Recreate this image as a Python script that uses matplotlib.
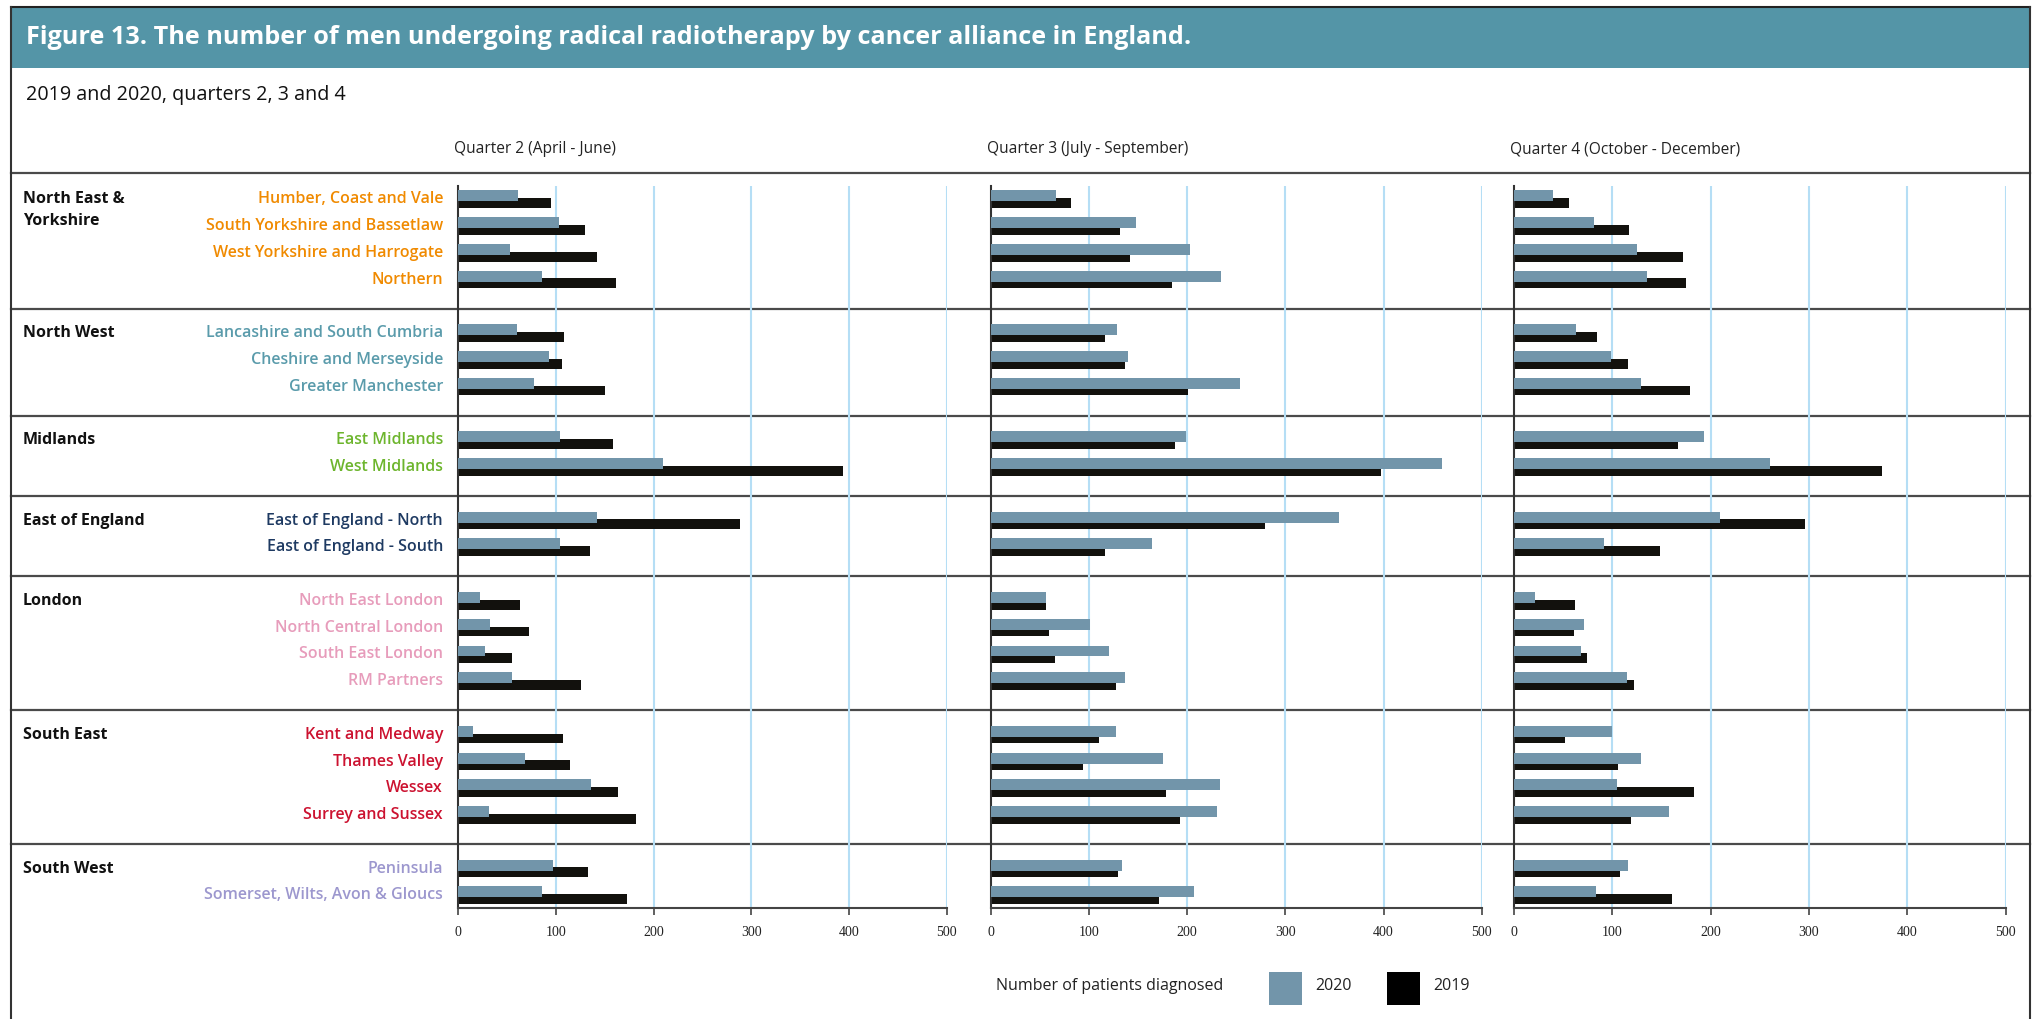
import matplotlib
matplotlib.use("Agg")
import matplotlib.pyplot as plt
from matplotlib.patches import Rectangle
from matplotlib.lines import Line2D
from matplotlib.transforms import blended_transform_factory

# Regions (cancer alliance groups) and their alliances
regions = ["North East &\nYorkshire", "North West", "Midlands", "East of England",
           "London", "South East", "South West"]
region_sizes = [4, 3, 2, 2, 4, 4, 2]
region_colors = ["#F08A00", "#5A9BAB", "#6DB52D", "#1E3A62", "#E79CBB", "#CC1230", "#9C97CE"]

alliances = ["Humber, Coast and Vale", "South Yorkshire and Bassetlaw",
             "West Yorkshire and Harrogate", "Northern",
             "Lancashire and South Cumbria", "Cheshire and Merseyside", "Greater Manchester",
             "East Midlands", "West Midlands",
             "East of England - North", "East of England - South",
             "North East London", "North Central London", "South East London", "RM Partners",
             "Kent and Medway", "Thames Valley", "Wessex", "Surrey and Sussex",
             "Peninsula", "Somerset, Wilts, Avon & Gloucs"]

quarters = ["Quarter 2 (April - June)", "Quarter 3 (July - September)",
            "Quarter 4 (October - December)"]

# Number of patients
q2_2020 = [61, 103, 53, 86, 60, 93, 78, 104, 210, 142, 104, 22, 32, 27, 55, 15, 68, 136, 31, 97, 86]
q2_2019 = [95, 130, 142, 161, 108, 106, 150, 158, 394, 288, 135, 63, 72, 55, 126, 107, 114, 164, 182, 133, 173]
q3_2020 = [67, 148, 203, 235, 129, 140, 254, 199, 459, 355, 164, 56, 101, 121, 137, 128, 176, 234, 230, 134, 207]
q3_2019 = [82, 132, 142, 185, 116, 137, 201, 188, 397, 279, 116, 56, 60, 66, 128, 110, 94, 179, 193, 130, 171]
q4_2020 = [40, 81, 125, 135, 63, 99, 129, 193, 260, 210, 92, 22, 71, 68, 115, 100, 129, 105, 158, 116, 84]
q4_2019 = [56, 117, 172, 175, 85, 116, 179, 167, 374, 296, 149, 62, 61, 74, 122, 52, 106, 183, 119, 108, 161]

series = [(q2_2020, q2_2019), (q3_2020, q3_2019), (q4_2020, q4_2019)]

c2020 = "#7295AA"
c2019 = "#12110D"
grid_c = "#B5DEF5"
line_c = "#4A4A4A"

# row positions: one blank slot between groups
ypos, group_first, group_lines, label_colors = [], [], [], []
pos = 0
for n, col in zip(region_sizes, region_colors):
    group_first.append(pos)
    for k in range(n):
        ypos.append(pos)
        label_colors.append(col)
        pos += 1
    group_lines.append(pos + 0.08)
    pos += 1
group_lines = group_lines[:-1]

W, H = 2035, 1019
fig = plt.figure(figsize=(W / 100, H / 100), dpi=100)
fig.patch.set_facecolor("white")

sans = ["Open Sans", "DejaVu Sans"]
ax_left = [458.3, 990.5, 1513.8]
ax_width = [488.2, 491.4, 492.0]
ax_top, ax_bot = 186, 908

axes = []
for i, (v20, v19) in enumerate(series):
    ax = fig.add_axes([ax_left[i] / W, 1 - ax_bot / H, ax_width[i] / W, (ax_bot - ax_top) / H])
    ax.barh([y + 0.14 for y in ypos], v19, height=0.37, color=c2019, zorder=2)
    ax.barh([y - 0.13 for y in ypos], v20, height=0.41, color=c2020, zorder=3)
    ax.set_xlim(0, 500)
    ax.set_ylim(26.47, -0.5)
    ax.set_xticks([0, 100, 200, 300, 400, 500])
    ax.set_yticks([])
    for gx in [100, 200, 300, 400, 500]:
        ax.axvline(gx, color=grid_c, lw=1.5, zorder=1)
    for s in ["top", "right"]:
        ax.spines[s].set_visible(False)
    ax.spines["left"].set_color("#333333")
    ax.spines["left"].set_linewidth(1.5)
    ax.spines["bottom"].set_color("#444444")
    ax.spines["bottom"].set_linewidth(1.5)
    ax.tick_params(axis="x", length=5, width=1.2, color="#444444", pad=8)
    for t in ax.get_xticklabels():
        t.set_fontfamily(["Liberation Serif", "DejaVu Serif"])
        t.set_fontsize(10)
        t.set_color("#222222")
    ax.set_facecolor("none")
    fig.text((ax_left[i] - 4) / W, 1 - 149 / H, quarters[i], fontsize=11.2,
             family=sans, color="#222222", va="center", ha="left")
    axes.append(ax)

ax0 = axes[0]
tr = blended_transform_factory(fig.transFigure, ax0.transData)

# horizontal separators across the whole table
x0f, x1f = 10.5 / W, 2030 / W
for gy in [-1] + group_lines:
    fig.add_artist(Line2D([x0f, x1f], [gy, gy], transform=tr, color=line_c, lw=1.6, zorder=0))

# alliance labels
for name, y, col in zip(alliances, ypos, label_colors):
    fig.text(443 / W, y, name, transform=tr, ha="right", va="center",
             fontsize=11.5, family=sans, weight="semibold", color=col)

# region labels
for reg, y in zip(regions, group_first):
    for k, line in enumerate(reg.split("\n")):
        fig.text(23 / W, y + k * 0.8, line, transform=tr, ha="left", va="center",
                 fontsize=11.5, family=sans, weight="bold", color="#111111")

# frame and title bar
fig.add_artist(Rectangle((x0f, 1 - 68 / H), x1f - x0f, 61 / H, transform=fig.transFigure,
                         facecolor="#5495A7", edgecolor="none", zorder=0))
fig.add_artist(Line2D([x0f, x1f], [1 - 6.5 / H, 1 - 6.5 / H], transform=fig.transFigure,
                      color="#222222", lw=1.5))
for xf in [x0f, x1f]:
    fig.add_artist(Line2D([xf, xf], [0, 1 - 6.5 / H], transform=fig.transFigure,
                          color="#333333", lw=1.5))
fig.text(26 / W, 1 - 38 / H,
         "Figure 13. The number of men undergoing radical radiotherapy by cancer alliance in England.",
         fontsize=18.2, weight="bold", family=sans, color="white", va="center", ha="left")
fig.text(26 / W, 1 - 95 / H, "2019 and 2020, quarters 2, 3 and 4", fontsize=14.2,
         family=sans, color="#111111", va="center", ha="left")

# legend
fig.text(996 / W, 1 - 986 / H, "Number of patients diagnosed", fontsize=11.5, family=sans,
         color="#222222", va="center", ha="left")
for xs, col, lab in [(1269, c2020, "2020"), (1387, "black", "2019")]:
    fig.add_artist(Rectangle((xs / W, 1 - 1005 / H), 33 / W, 33 / H, transform=fig.transFigure,
                             facecolor=col, edgecolor="none"))
    fig.text((xs + 46) / W, 1 - 986 / H, lab, fontsize=11.5, family=sans,
             color="#222222", va="center", ha="left")

fig.savefig("out.png", dpi=100)
